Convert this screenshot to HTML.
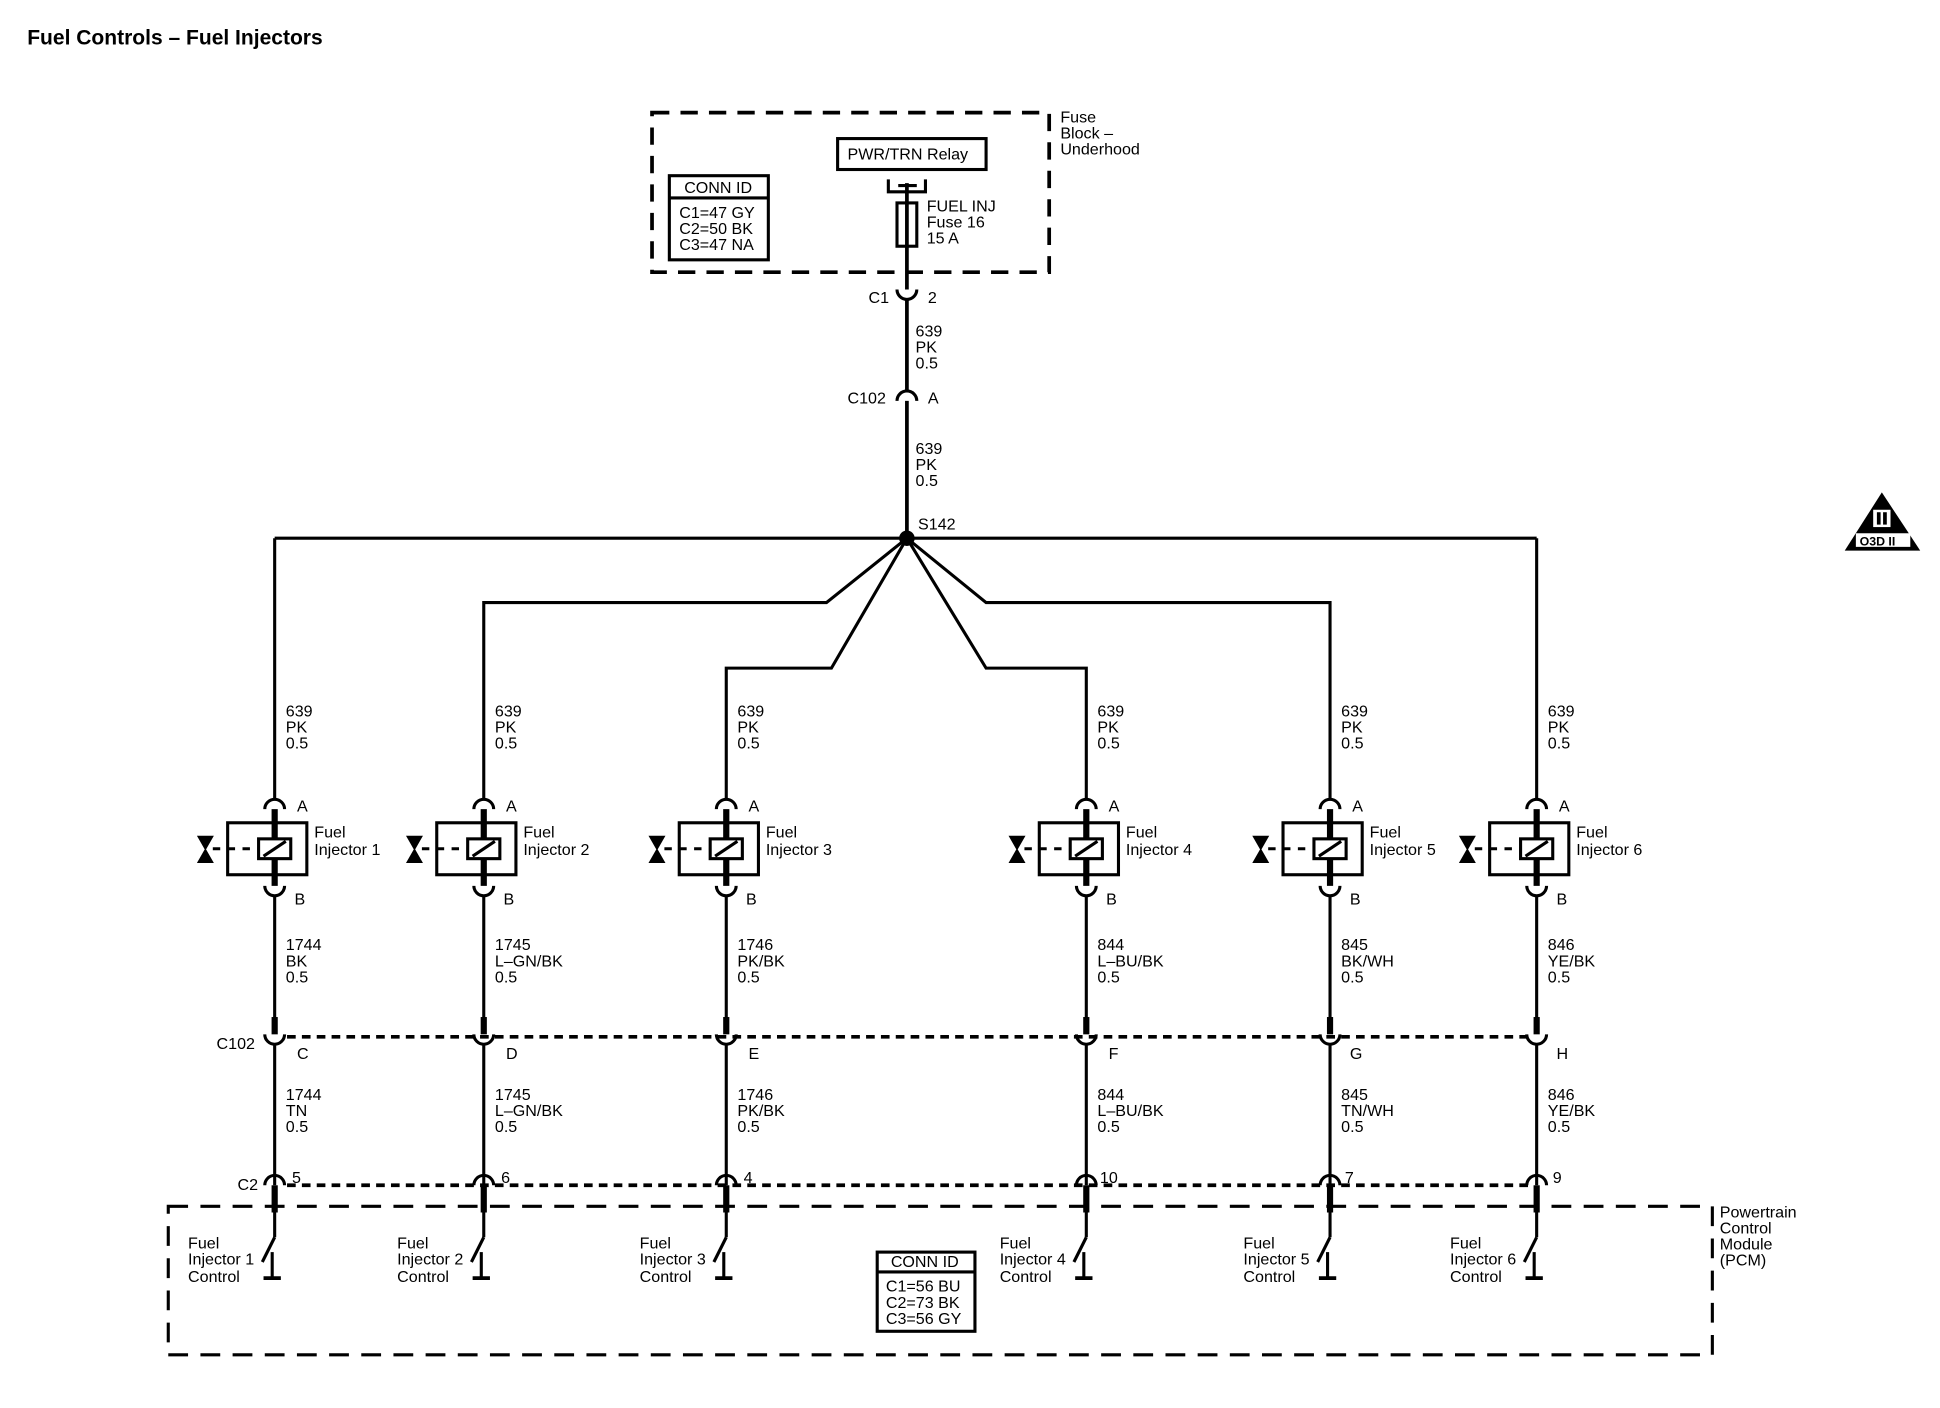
<!DOCTYPE html>
<html><head><meta charset="utf-8"><style>
html,body{margin:0;padding:0;background:#fff;}
svg{display:block;}
text{font-family:"Liberation Sans",Arial,sans-serif;font-size:13px;fill:#000;}
.b{font-weight:bold;}
</style></head><body>
<svg width="1940" height="1408" viewBox="0 0 1568 1138" xmlns="http://www.w3.org/2000/svg">
<g fill="none" stroke="#000" stroke-width="2.5">
<rect x="527" y="91" width="321" height="129" stroke-dasharray="14 9" stroke-width="3"/>
<rect x="677" y="112" width="120" height="25"/>
<rect x="541" y="142" width="80" height="68"/>
<line x1="541" y1="160" x2="621" y2="160"/>
<path d="M718 145 V155 H748 V145"/>
<line x1="726" y1="150" x2="741" y2="150"/>
<rect x="725" y="164" width="16" height="35"/>
<line x1="733" y1="148" x2="733" y2="234" stroke-width="3"/>
<path d="M725 234 A8 8 0 0 0 741 234"/>
<line x1="733" y1="242" x2="733" y2="316" stroke-width="3"/>
<path d="M725 324 A8 8 0 0 1 741 324"/>
<line x1="733" y1="324" x2="733" y2="435" stroke-width="3"/>
<line x1="222" y1="435" x2="1242" y2="435"/>
<circle cx="733" cy="435" r="5" fill="#000"/>
<polyline points="733,435 668,487 391,487 391,646"/>
<polyline points="733,435 797,487 1075,487 1075,646"/>
<polyline points="733,435 672,540 587,540 587,646"/>
<polyline points="733,435 797,540 878,540 878,646"/>
<line x1="222" y1="435" x2="222" y2="646"/>
<line x1="1242" y1="435" x2="1242" y2="646"/>
<line x1="232" y1="838" x2="1240" y2="838" stroke-dasharray="7 5" stroke-width="3"/>
<line x1="232" y1="958" x2="1240" y2="958" stroke-dasharray="7 5" stroke-width="3"/>
<rect x="136" y="975" width="1248" height="120" stroke-dasharray="16 10" stroke-width="2.5"/>
<rect x="709" y="1012" width="79" height="64"/>
<line x1="709" y1="1028" x2="788" y2="1028"/>
</g>

<defs>
<g id="inj" fill="none" stroke="#000" stroke-width="2.5">
<path d="M-8 654 A8 8 0 0 1 8 654"/><line x1="0" y1="654" x2="0" y2="716" stroke-width="5"/>
<rect x="-38" y="665" width="64" height="42" fill="#fff"/><line x1="0" y1="665" x2="0" y2="707" stroke-width="5"/>
<rect x="-13" y="678" width="26" height="16" fill="#fff"/><line x1="-9" y1="692" x2="9" y2="680"/>
<line x1="-50" y1="686" x2="-13" y2="686" stroke-dasharray="6 6"/>
<path d="M-62 676 H-50 L-62 697 H-50 Z" fill="#000" stroke-width="1"/>
<path d="M-8 716 A8 8 0 0 0 8 716"/><line x1="0" y1="724" x2="0" y2="826"/>
<line x1="0" y1="822" x2="0" y2="836" stroke-width="5"/><path d="M-8 836 A8 8 0 0 0 8 836"/>
<line x1="0" y1="844" x2="0" y2="958"/><path d="M-8 958 A8 8 0 0 1 8 958"/>
<line x1="0" y1="958" x2="0" y2="980" stroke-width="5"/><line x1="0" y1="980" x2="0" y2="1000"/>
<line x1="0" y1="1000" x2="-10" y2="1020"/><line x1="-2" y1="1012" x2="-2" y2="1032"/>
<line x1="-9" y1="1033" x2="5" y2="1033" stroke-width="3"/>
</g>
</defs>
<use href="#inj" x="222"/>
<use href="#inj" x="391"/>
<use href="#inj" x="587"/>
<use href="#inj" x="878"/>
<use href="#inj" x="1075"/>
<use href="#inj" x="1242"/>

<polygon points="1521,398 1491,445 1552,445" fill="#000"/>
<rect x="1514" y="412" width="14" height="14" fill="#fff"/>
<rect x="1517" y="414" width="3" height="10" fill="#000"/>
<rect x="1522" y="414" width="3" height="10" fill="#000"/>
<rect x="1500" y="431" width="44" height="11" fill="#fff"/>
<text x="1503" y="441" style="font-size:10px;font-weight:bold">O3D II</text>

<text x="22" y="36" class="b" style="font-size:17px">Fuel Controls – Fuel Injectors</text>
<text x="857" y="99">Fuse</text><text x="857" y="112">Block –</text><text x="857" y="125">Underhood</text>
<text x="685" y="129">PWR/TRN Relay</text>
<text x="553" y="156">CONN ID</text>
<text x="549" y="176">C1=47 GY</text><text x="549" y="189">C2=50 BK</text><text x="549" y="202">C3=47 NA</text>
<text x="749" y="171">FUEL INJ</text><text x="749" y="184">Fuse 16</text><text x="749" y="197">15 A</text>
<text x="702" y="245">C1</text><text x="750" y="245">2</text>
<text x="740" y="272">639</text><text x="740" y="285">PK</text><text x="740" y="298">0.5</text>
<text x="685" y="326">C102</text><text x="750" y="326">A</text>
<text x="740" y="367">639</text><text x="740" y="380">PK</text><text x="740" y="393">0.5</text>
<text x="742" y="428">S142</text>

<g>
<text x="231" y="579">639</text><text x="231" y="592">PK</text><text x="231" y="605">0.5</text>
<text x="400" y="579">639</text><text x="400" y="592">PK</text><text x="400" y="605">0.5</text>
<text x="596" y="579">639</text><text x="596" y="592">PK</text><text x="596" y="605">0.5</text>
<text x="887" y="579">639</text><text x="887" y="592">PK</text><text x="887" y="605">0.5</text>
<text x="1084" y="579">639</text><text x="1084" y="592">PK</text><text x="1084" y="605">0.5</text>
<text x="1251" y="579">639</text><text x="1251" y="592">PK</text><text x="1251" y="605">0.5</text>

<text x="240" y="656">A</text><text x="409" y="656">A</text><text x="605" y="656">A</text><text x="896" y="656">A</text><text x="1093" y="656">A</text><text x="1260" y="656">A</text>
<text x="254" y="677">Fuel</text><text x="254" y="691">Injector 1</text>
<text x="423" y="677">Fuel</text><text x="423" y="691">Injector 2</text>
<text x="619" y="677">Fuel</text><text x="619" y="691">Injector 3</text>
<text x="910" y="677">Fuel</text><text x="910" y="691">Injector 4</text>
<text x="1107" y="677">Fuel</text><text x="1107" y="691">Injector 5</text>
<text x="1274" y="677">Fuel</text><text x="1274" y="691">Injector 6</text>
<text x="238" y="731">B</text><text x="407" y="731">B</text><text x="603" y="731">B</text><text x="894" y="731">B</text><text x="1091" y="731">B</text><text x="1258" y="731">B</text>

<text x="231" y="768">1744</text><text x="231" y="781">BK</text><text x="231" y="794">0.5</text>
<text x="400" y="768">1745</text><text x="400" y="781">L–GN/BK</text><text x="400" y="794">0.5</text>
<text x="596" y="768">1746</text><text x="596" y="781">PK/BK</text><text x="596" y="794">0.5</text>
<text x="887" y="768">844</text><text x="887" y="781">L–BU/BK</text><text x="887" y="794">0.5</text>
<text x="1084" y="768">845</text><text x="1084" y="781">BK/WH</text><text x="1084" y="794">0.5</text>
<text x="1251" y="768">846</text><text x="1251" y="781">YE/BK</text><text x="1251" y="794">0.5</text>

<text x="175" y="848">C102</text>
<text x="240" y="856">C</text><text x="409" y="856">D</text><text x="605" y="856">E</text><text x="896" y="856">F</text><text x="1091" y="856">G</text><text x="1258" y="856">H</text>

<text x="231" y="889">1744</text><text x="231" y="902">TN</text><text x="231" y="915">0.5</text>
<text x="400" y="889">1745</text><text x="400" y="902">L–GN/BK</text><text x="400" y="915">0.5</text>
<text x="596" y="889">1746</text><text x="596" y="902">PK/BK</text><text x="596" y="915">0.5</text>
<text x="887" y="889">844</text><text x="887" y="902">L–BU/BK</text><text x="887" y="915">0.5</text>
<text x="1084" y="889">845</text><text x="1084" y="902">TN/WH</text><text x="1084" y="915">0.5</text>
<text x="1251" y="889">846</text><text x="1251" y="902">YE/BK</text><text x="1251" y="915">0.5</text>

<text x="192" y="962">C2</text>
<text x="236" y="956">5</text><text x="405" y="956">6</text><text x="601" y="956">4</text><text x="889" y="956">10</text><text x="1087" y="956">7</text><text x="1255" y="956">9</text>

<text x="1390" y="984">Powertrain</text><text x="1390" y="997">Control</text><text x="1390" y="1010">Module</text><text x="1390" y="1023">(PCM)</text>

<text x="152" y="1009">Fuel</text><text x="152" y="1022">Injector 1</text><text x="152" y="1036">Control</text>
<text x="321" y="1009">Fuel</text><text x="321" y="1022">Injector 2</text><text x="321" y="1036">Control</text>
<text x="517" y="1009">Fuel</text><text x="517" y="1022">Injector 3</text><text x="517" y="1036">Control</text>
<text x="808" y="1009">Fuel</text><text x="808" y="1022">Injector 4</text><text x="808" y="1036">Control</text>
<text x="1005" y="1009">Fuel</text><text x="1005" y="1022">Injector 5</text><text x="1005" y="1036">Control</text>
<text x="1172" y="1009">Fuel</text><text x="1172" y="1022">Injector 6</text><text x="1172" y="1036">Control</text>

<text x="720" y="1024">CONN ID</text>
<text x="716" y="1044">C1=56 BU</text><text x="716" y="1057">C2=73 BK</text><text x="716" y="1070">C3=56 GY</text>
</g>
</svg>
</body></html>
